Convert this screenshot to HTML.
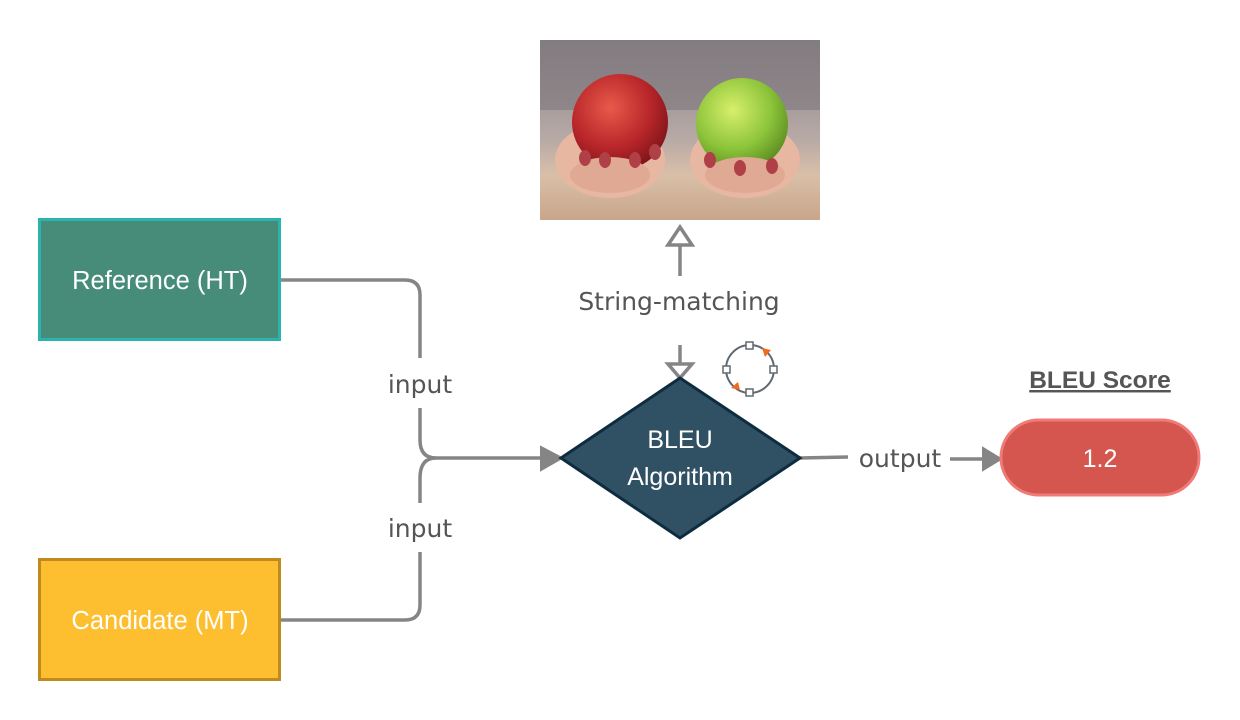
<!DOCTYPE html>
<html><head><meta charset="utf-8"><style>
html,body{margin:0;padding:0;background:#fff;}
svg{display:block;font-family:"Liberation Sans",sans-serif;}
</style></head><body>
<svg width="1240" height="720" viewBox="0 0 1240 720" xmlns="http://www.w3.org/2000/svg">
<defs>
<linearGradient id="bg" x1="0" y1="0" x2="0" y2="1">
<stop offset="0" stop-color="#8a8488"/><stop offset="0.55" stop-color="#b7a9a6"/><stop offset="0.75" stop-color="#d9bfa8"/><stop offset="1" stop-color="#c8a68a"/></linearGradient>
<radialGradient id="red" cx="0.4" cy="0.35" r="0.7"><stop offset="0" stop-color="#e85a4a"/><stop offset="0.6" stop-color="#b8262a"/><stop offset="1" stop-color="#7a1418"/></radialGradient>
<radialGradient id="grn" cx="0.4" cy="0.35" r="0.7"><stop offset="0" stop-color="#d8ef6a"/><stop offset="0.6" stop-color="#8cc43a"/><stop offset="1" stop-color="#5a8a20"/></radialGradient>
</defs>
<rect x="540" y="40" width="280" height="180" fill="url(#bg)"/>
<rect x="540" y="40" width="280" height="70" fill="#7d777c" opacity="0.6"/>
<ellipse cx="610" cy="160" rx="55" ry="38" fill="#e8b7a2"/>
<ellipse cx="745" cy="160" rx="55" ry="38" fill="#e8b7a2"/>
<circle cx="620" cy="122" r="48" fill="url(#red)"/>
<circle cx="742" cy="124" r="46" fill="url(#grn)"/>
<ellipse cx="610" cy="175" rx="40" ry="18" fill="#e0a994"/>
<ellipse cx="745" cy="175" rx="40" ry="18" fill="#e0a994"/>
<g fill="#b04048"><ellipse cx="585" cy="158" rx="6" ry="8"/><ellipse cx="605" cy="160" rx="6" ry="8"/><ellipse cx="635" cy="160" rx="6" ry="8"/><ellipse cx="655" cy="152" rx="6" ry="8"/><ellipse cx="710" cy="160" rx="6" ry="8"/><ellipse cx="740" cy="168" rx="6" ry="8"/><ellipse cx="772" cy="166" rx="6" ry="8"/></g>

<g fill="none" stroke="#858585" stroke-width="3.5">
<path d="M280 280 H405 Q420 280 420 295 V358"/>
<path d="M420 408 V440 Q420 458 436 458 H545"/>
<path d="M280 620 H405 Q420 620 420 605 V552"/>
<path d="M420 503 V478 Q420 458 436 458"/>
<path d="M680 345 V372"/>
<path d="M680 276 V244"/>
<path d="M800 458 L848 457"/>
<path d="M950 459 H985"/>
</g>
<polygon points="541,447 562,458 541,470" fill="#858585" stroke="#858585" stroke-width="2"/>
<polygon points="983,448 1001,459 983,470" fill="#858585" stroke="#858585" stroke-width="2"/>
<polygon points="668,245 680,227 692,245" fill="#fff" stroke="#858585" stroke-width="3.5"/>
<polygon points="668,364 680,378 692,364" fill="#fff" stroke="#858585" stroke-width="3.5"/>

<g fill="#555" font-size="25" text-anchor="middle" font-family="'DejaVu Sans','Liberation Sans',sans-serif">
<text x="420" y="393">input</text>
<text x="420" y="537">input</text>
<text x="679" y="310">String-matching</text>
<text x="900" y="467">output</text>
</g>

<rect x="39.5" y="219.5" width="240" height="120" fill="#468c78" stroke="#2bb3b0" stroke-width="3"/>
<text x="160" y="289" fill="#fff" font-size="25.5" text-anchor="middle">Reference (HT)</text>
<rect x="39.5" y="559.5" width="240" height="120" fill="#fdbe2f" stroke="#c08a1e" stroke-width="3"/>
<text x="160" y="629" fill="#fff" font-size="25.5" text-anchor="middle">Candidate (MT)</text>

<polygon points="680,378 800,458 680,538 561,458" fill="#305163" stroke="#0d2c40" stroke-width="3"/>
<text x="680" y="448" fill="#fff" font-size="25" text-anchor="middle">BLEU</text>
<text x="680" y="485" fill="#fff" font-size="25" text-anchor="middle">Algorithm</text>

<rect x="1001" y="420" width="198" height="75" rx="37.5" fill="#d4564f" stroke="#f07a78" stroke-width="3"/>
<text x="1100" y="467" fill="#fff" font-size="25" text-anchor="middle">1.2</text>
<text x="1100" y="388" fill="#555" font-size="24.5" font-weight="bold" text-anchor="middle" text-decoration="underline">BLEU Score</text>

<circle cx="750" cy="369" r="24" fill="none" stroke="#606870" stroke-width="2"/>
<g fill="#fff" stroke="#606870" stroke-width="1.5">
<rect x="746" y="342" width="7" height="7"/><rect x="746" y="389" width="7" height="7"/>
<rect x="723" y="366" width="7" height="7"/><rect x="770" y="366" width="7" height="7"/></g>
<polygon points="762,348 771,350 765,357" fill="#f06a20"/>
<polygon points="731,388 738,382 740,390" fill="#f06a20"/>
</svg>
</body></html>
